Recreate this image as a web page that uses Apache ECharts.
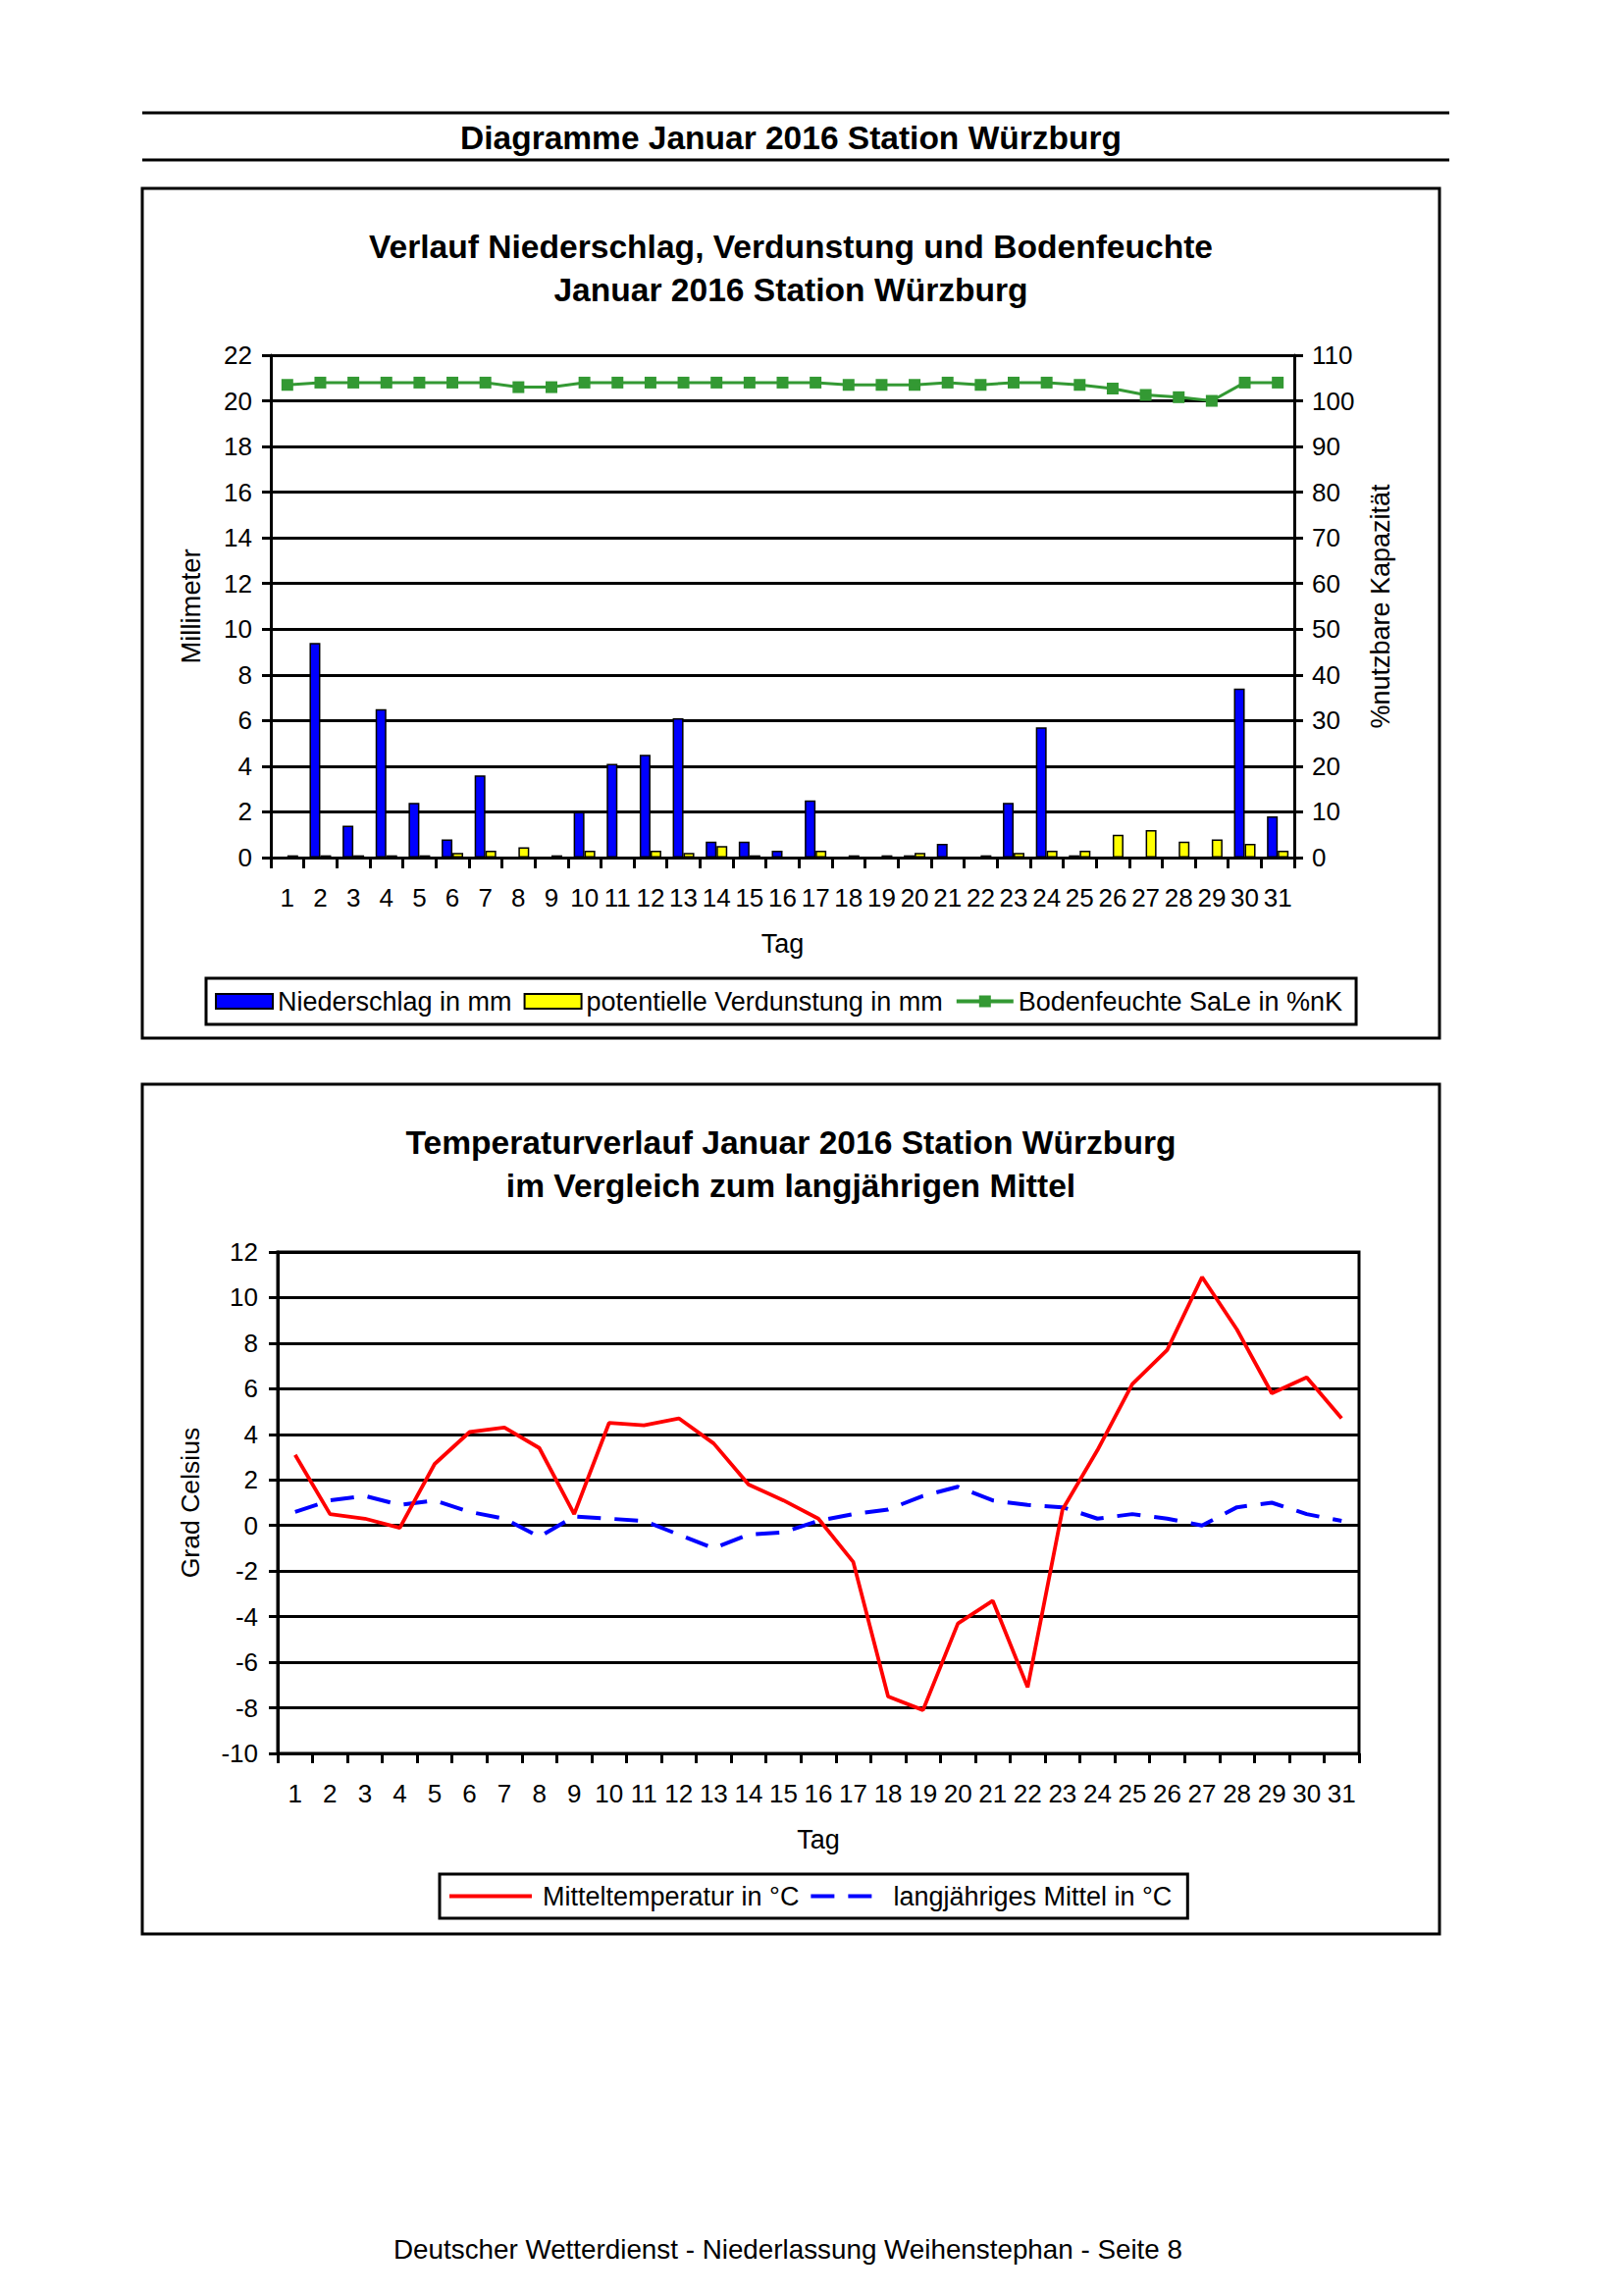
<!DOCTYPE html>
<html><head><meta charset="utf-8">
<script src="https://cdn.jsdelivr.net/npm/echarts@6/dist/echarts.min.js"></script>
<style>html,body{margin:0;padding:0;background:#fff}#c{width:1653px;height:2340px}</style>
</head><body><div id="c"></div>
<script>
// ---- data ----
const days = ['1','2','3','4','5','6','7','8','9','10','11','12','13','14','15','16','17','18','19','20','21','22','23','24','25','26','27','28','29','30','31'];
const niederschlag = [0, 9.4, 1.4, 6.5, 2.4, 0.8, 3.6, 0, 0, 2.0, 4.1, 4.5, 6.1, 0.7, 0.7, 0.3, 2.5, 0, 0, 0.1, 0.6, 0, 2.4, 5.7, 0.1, 0, 0, 0, 0, 7.4, 1.8];
const verdunstung = [0.1, 0.1, 0.1, 0.1, 0.1, 0.2, 0.3, 0.45, 0.1, 0.3, 0, 0.3, 0.2, 0.5, 0.1, 0, 0.3, 0.1, 0.1, 0.2, 0, 0.1, 0.2, 0.3, 0.3, 1.0, 1.2, 0.7, 0.8, 0.6, 0.3];
const bodenfeuchte = [103.5, 104, 104, 104, 104, 104, 104, 103, 103, 104, 104, 104, 104, 104, 104, 104, 104, 103.5, 103.5, 103.5, 104, 103.5, 104, 104, 103.5, 102.7, 101.3, 100.8, 100, 104, 104];
const mitteltemp = [3.1, 0.5, 0.3, -0.1, 2.7, 4.1, 4.3, 3.4, 0.5, 4.5, 4.4, 4.7, 3.6, 1.8, 1.1, 0.3, -1.6, -7.5, -8.1, -4.3, -3.3, -7.1, 0.7, 3.3, 6.2, 7.7, 10.9, 8.6, 5.8, 6.5, 4.7];
const langjMittel = [0.6, 1.1, 1.3, 0.9, 1.1, 0.6, 0.3, -0.5, 0.4, 0.3, 0.2, -0.4, -1.0, -0.4, -0.3, 0.2, 0.5, 0.7, 1.3, 1.7, 1.1, 0.9, 0.8, 0.3, 0.5, 0.3, 0.0, 0.8, 1.0, 0.5, 0.2];
const mmTicks = {min: 0, max: 22, interval: 2};
const pctTicks = {min: 0, max: 110, interval: 10};
const tempTicks = {min: -10, max: 12, interval: 2};

// ---- chart ----
const FONT = "'Liberation Sans', Arial, sans-serif";
const chart = echarts.init(document.getElementById('c'), null, {renderer: 'svg', width: 1653, height: 2340});
const black = '#000';
const axLine = {show: true, onZero: false, lineStyle: {color: black, width: 3}};
const lbl = (m) => ({fontSize: 26, color: black, fontFamily: FONT, margin: m});
const nameStyle = (s) => ({fontSize: s, color: black, fontFamily: FONT});
const txt = (t, x, y, size, bold) => ({type: 'text', x: x, y: y, silent: true,
  style: {text: t, fontSize: size, fontWeight: bold ? 'bold' : 'normal', fontFamily: FONT, fill: black, align: 'center', verticalAlign: 'middle'}});

const option = {
  backgroundColor: '#fff',
  animation: false,
  textStyle: {fontFamily: FONT, color: black},
  graphic: [
    {type: 'line', shape: {x1: 145, y1: 115, x2: 1477, y2: 115}, style: {stroke: black, lineWidth: 3}},
    {type: 'line', shape: {x1: 145, y1: 163, x2: 1477, y2: 163}, style: {stroke: black, lineWidth: 3}},
    txt('Diagramme Januar 2016 Station Würzburg', 806, 140, 33.5, true),
    {type: 'rect', shape: {x: 145, y: 192, width: 1322, height: 866}, style: {fill: 'none', stroke: black, lineWidth: 3}},
    txt('Verlauf Niederschlag, Verdunstung und Bodenfeuchte', 806, 251, 33.6, true),
    txt('Januar 2016 Station Würzburg', 806, 295, 33.6, true),
    {type: 'rect', shape: {x: 145, y: 1105, width: 1322, height: 866}, style: {fill: 'none', stroke: black, lineWidth: 3}},
    txt('Temperaturverlauf Januar 2016 Station Würzburg', 806, 1164, 33.6, true),
    txt('im Vergleich zum langjährigen Mittel', 806, 1208, 33.6, true),
    txt('Deutscher Wetterdienst - Niederlassung Weihenstephan - Seite 8', 803, 2292, 27.8, false)
  ],
  grid: [
    {left: 276, top: 362, width: 1043, height: 512},
    {left: 283, top: 1276, width: 1102, height: 511, show: true, borderColor: black, borderWidth: 3}
  ],
  xAxis: [
    {gridIndex: 0, type: 'category', data: days, axisLine: axLine,
     axisTick: {show: true, length: 11, lineStyle: {color: black, width: 3}},
     axisLabel: Object.assign({interval: 0}, lbl(28)),
     name: 'Tag', nameLocation: 'middle', nameGap: 74, nameTextStyle: nameStyle(27)},
    {gridIndex: 1, type: 'category', data: days, axisLine: axLine,
     axisTick: {show: true, length: 10, lineStyle: {color: black, width: 3}},
     axisLabel: Object.assign({interval: 0}, lbl(28)),
     name: 'Tag', nameLocation: 'middle', nameGap: 74, nameTextStyle: nameStyle(27)}
  ],
  yAxis: [
    Object.assign({gridIndex: 0, type: 'value', position: 'left', axisLine: axLine,
     axisTick: {show: true, length: 9, lineStyle: {color: black, width: 3}},
     axisLabel: lbl(19), splitLine: {show: true, lineStyle: {color: black, width: 3}},
     name: 'Millimeter', nameLocation: 'middle', nameGap: 68, nameRotate: 90,
     nameTextStyle: nameStyle(27.4)}, mmTicks),
    Object.assign({gridIndex: 0, type: 'value', position: 'right', axisLine: axLine,
     axisTick: {show: true, length: 9, lineStyle: {color: black, width: 3}},
     axisLabel: lbl(18), splitLine: {show: false},
     name: '%nutzbare Kapazität', nameLocation: 'middle', nameGap: 74, nameRotate: 90,
     nameTextStyle: nameStyle(27)}, pctTicks),
    Object.assign({gridIndex: 1, type: 'value', position: 'left', axisLine: axLine,
     axisTick: {show: true, length: 9, lineStyle: {color: black, width: 3}},
     axisLabel: lbl(20), splitLine: {show: true, lineStyle: {color: black, width: 3}},
     name: 'Grad Celsius', nameLocation: 'middle', nameGap: 76, nameRotate: 90,
     nameTextStyle: nameStyle(26.6)}, tempTicks)
  ],
  legend: [
    {data: [{name: 'Niederschlag in mm', icon: 'rect'}, {name: 'potentielle Verdunstung in mm', icon: 'rect'}, 'Bodenfeuchte SaLe in %nK'],
     left: 210, top: 997, itemWidth: 58, itemHeight: 15, itemGap: 12, padding: [10, 14, 10, 9],
     lineStyle: {width: 4},
     borderColor: black, borderWidth: 3, textStyle: {fontSize: 27, color: black, fontFamily: FONT}},
    {data: [{name: 'Mitteltemperatur in °C', icon: 'rect'},
            {name: 'langjähriges Mittel in °C', icon: 'path://M0,0h60v10h-60z M95,0h60v10h-60z'}],
     left: 448, top: 1910, itemWidth: 84, itemHeight: 4, itemGap: 12, padding: [9, 16, 9, 10],
     borderColor: black, borderWidth: 3, textStyle: {fontSize: 27, color: black, fontFamily: FONT, padding: [0, 0, 0, 6]}}
  ],
  series: [
    {name: 'Niederschlag in mm', type: 'bar', xAxisIndex: 0, yAxisIndex: 0, data: niederschlag,
     barWidth: 11, barGap: '0%', itemStyle: {color: '#0000FF', borderColor: black, borderWidth: 1.5}},
    {name: 'potentielle Verdunstung in mm', type: 'bar', xAxisIndex: 0, yAxisIndex: 0, data: verdunstung,
     barWidth: 11, barGap: '0%', itemStyle: {color: '#FFFF00', borderColor: black, borderWidth: 1.5}},
    {name: 'Bodenfeuchte SaLe in %nK', type: 'line', xAxisIndex: 0, yAxisIndex: 1, data: bodenfeuchte,
     symbol: 'rect', symbolSize: 12, lineStyle: {color: '#339933', width: 3}, itemStyle: {color: '#339933'}, z: 5},
    {name: 'Mitteltemperatur in °C', type: 'line', xAxisIndex: 1, yAxisIndex: 2, data: mitteltemp,
     symbol: 'none', lineStyle: {color: '#FF0000', width: 3.8}, itemStyle: {color: '#FF0000'}, z: 5},
    {name: 'langjähriges Mittel in °C', type: 'line', xAxisIndex: 1, yAxisIndex: 2, data: langjMittel,
     symbol: 'none', lineStyle: {color: '#0000FF', width: 4, type: [24, 14]}, itemStyle: {color: '#0000FF'}, z: 4}
  ]
};
chart.setOption(option);
</script>
</body></html>
